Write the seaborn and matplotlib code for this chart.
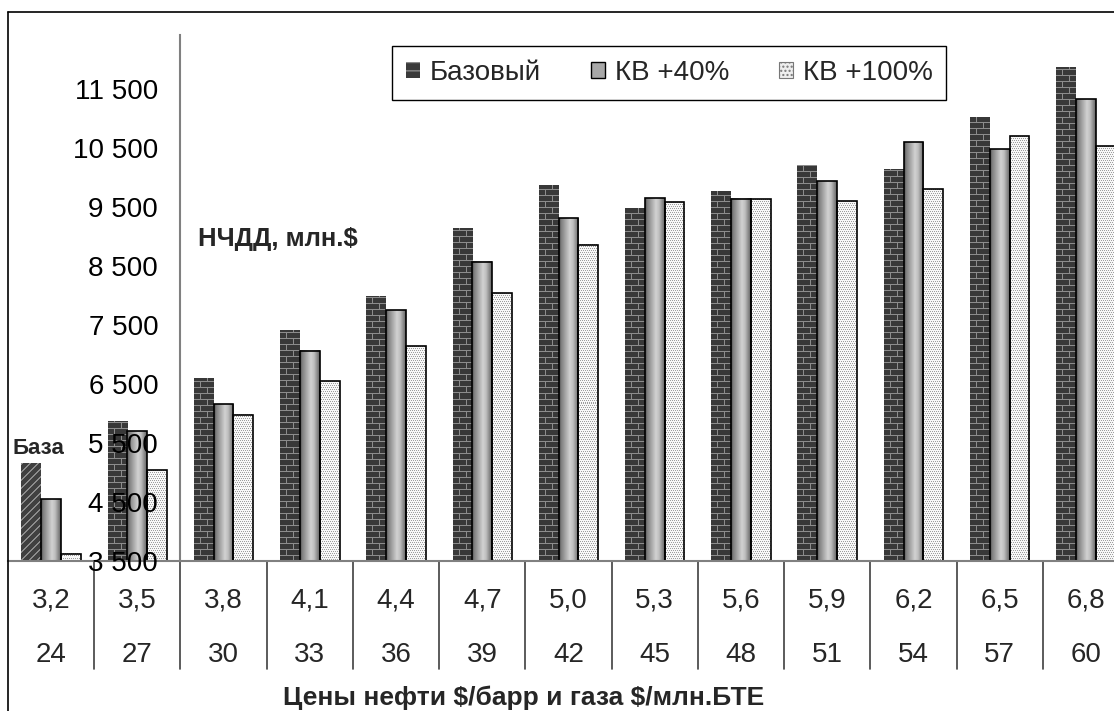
import numpy as np
import pandas as pd
import matplotlib
matplotlib.use("Agg")
import matplotlib.pyplot as plt
import matplotlib.transforms as mtransforms
from matplotlib.lines import Line2D
from matplotlib.patches import Patch
from matplotlib.ticker import FuncFormatter
import seaborn as sns

# price pairs under the bars
oil_prices = ["3,2", "3,5", "3,8", "4,1", "4,4", "4,7", "5,0", "5,3", "5,6", "5,9", "6,2", "6,5", "6,8"]
gas_prices = ["24", "27", "30", "33", "36", "39", "42", "45", "48", "51", "54", "57", "60"]

series_names = ["Базовый", "КВ +40%", "КВ +100%"]
base_vals = [5160, 5860, 6600, 7400, 7990, 9130, 9870, 9480, 9770, 10210, 10130, 11010, 11870]
kv40_vals = [4550, 5700, 6160, 7060, 7750, 8570, 9310, 9650, 9640, 9940, 10600, 10480, 11330]
kv100_vals = [3620, 5040, 5975, 6550, 7140, 8040, 8860, 9580, 9630, 9600, 9800, 10700, 10530]

y_ticks = [3500, 4500, 5500, 6500, 7500, 8500, 9500, 10500, 11500]

df = pd.DataFrame({
    "cat": oil_prices * 3,
    "value": base_vals + kv40_vals + kv100_vals,
    "series": [s for s in series_names for _ in oil_prices],
})

sns.set_style("white")
plt.rcParams["font.family"] = ["Liberation Sans", "DejaVu Sans"]
plt.rcParams["text.parse_math"] = False

W, H = 1114, 711
fig = plt.figure(figsize=(W / 100, H / 100), dpi=100)
ax = fig.add_axes([8 / W, 150 / H, 1121 / W, 526 / H])

sns.barplot(data=df, x="cat", y="value", hue="series", hue_order=series_names,
            order=oil_prices, width=0.69, gap=0, palette=["#3a3a3a", "#a8a8a8", "#e8e8e8"],
            legend=False, ax=ax)

ax.set_xlim(-0.5, len(oil_prices) - 0.5)
ax.set_ylim(3500, 12415)


def texture(kind, w, h):
    ii, jj = np.mgrid[0:h, 0:w]
    r = h - 1 - ii
    if kind == "brick":
        row = r // 6
        mortar = ((r % 6) == 5) | (((jj + (row % 2) * 7) % 14) == 13)
        return np.where(mortar, 0.55, 0.22)
    if kind == "hatch":
        return np.where(((jj + ii) % 8) < 2, 0.55, 0.25)
    if kind == "dots":
        dot = (ii % 2 == 0) & (((jj + ii // 2) % 2) == 0)
        return np.where(dot, 0.62, 0.97)
    # cylinder gradient
    t = (np.arange(w) + 0.5) / max(w, 1)
    prof = np.interp(t, [0, 0.12, 0.55, 0.7, 1.0], [0.3, 0.5, 0.82, 0.75, 0.38])
    return np.tile(prof, (h, 1))


kinds = ["brick", "cyl", "dots"]
for ci, cont in enumerate(ax.containers):
    for bi, bar in enumerate(cont):
        kind = kinds[ci]
        if ci == 0 and bi == 0:
            kind = "hatch"
        x0, x1 = bar.get_x(), bar.get_x() + bar.get_width()
        y0, y1 = 3500, bar.get_y() + bar.get_height()
        (px0, py0), (px1, py1) = ax.transData.transform([(x0, y0), (x1, y1)])
        w = max(int(round(px1 - px0)), 1)
        h = max(int(round(py1 - py0)), 1)
        ax.imshow(texture(kind, w, h), cmap="gray", vmin=0, vmax=1, extent=(x0, x1, y0, y1),
                  aspect="auto", interpolation="nearest", zorder=0.5)
        bar.set_facecolor("none")
        if ci == 0:
            bar.set_linewidth(0)
        else:
            bar.set_edgecolor("black")
            bar.set_linewidth(1.2)
        bar.set_zorder(1)

ax.set_xlim(-0.5, len(oil_prices) - 0.5)
ax.set_ylim(3500, 12415)
ax.set_axisbelow(False)

# axes styling
for side in ["top", "right"]:
    ax.spines[side].set_visible(False)
ax.spines["left"].set_position(("data", 1.5))
ax.spines["left"].set_color("#808080")
ax.spines["left"].set_linewidth(1.5)
ax.spines["bottom"].set_color("#808080")
ax.spines["bottom"].set_linewidth(1.5)
ax.set_xticks([])
ax.set_xlabel("")
ax.set_ylabel("")
ax.set_yticks(y_ticks)
ax.yaxis.set_major_formatter(FuncFormatter(lambda v, p: f"{int(v):,}".replace(",", " ")))
ax.tick_params(axis="y", direction="out", length=6, width=1.2, color="#808080",
               labelsize=20, pad=10, labelcolor="black")

# table under the axis
trans = mtransforms.blended_transform_factory(ax.transData, ax.transAxes)
for k in range(len(oil_prices) - 1):
    ax.plot([k + 0.5, k + 0.5], [0, -0.205], color="#404040", lw=1.2,
            transform=trans, clip_on=False)
for k, (o, g) in enumerate(zip(oil_prices, gas_prices)):
    ax.text(k, -0.075, o, transform=trans, ha="center", va="center", fontsize=20)
    ax.text(k, -0.178, g, transform=trans, ha="center", va="center", fontsize=20)

# chart frame (left and top)
fig.add_artist(Line2D([8 / W, 8 / W], [0, 1 - 12 / H], color="black", lw=1.2))
fig.add_artist(Line2D([8 / W, 1], [1 - 12 / H, 1 - 12 / H], color="black", lw=1.2))

# labels
fig.text(198 / W, 1 - 239 / H, "НЧДД, млн.$", fontsize=18.5, fontweight="bold",
         ha="left", va="center")
fig.text(12 / W, 1 - 448 / H, "База", fontsize=16, fontweight="bold",
         ha="left", va="center")
fig.text(524 / W, 1 - 698 / H, "Цены нефти $/барр и газа $/млн.БТЕ", fontsize=19,
         fontweight="bold", ha="center", va="center")

# legend
handles = [
    Patch(facecolor="#3a3a3a", edgecolor="#8a8a8a", hatch="--", linewidth=0),
    Patch(facecolor="#a8a8a8", edgecolor="black", linewidth=1),
    Patch(facecolor="#eeeeee", edgecolor="#777777", hatch="....", linewidth=0.8),
]
leg = ax.legend(handles, series_names, loc="center", bbox_to_anchor=(0.59, 0.928),
                ncol=3, fontsize=20, frameon=True, fancybox=False, framealpha=1,
                handlelength=0.5, handleheight=0.5, handletextpad=0.35,
                columnspacing=1.8, borderpad=0.5)
leg.get_frame().set_edgecolor("black")
leg.get_frame().set_linewidth(1.0)
leg.set_zorder(5)

fig.savefig("out.png", dpi=100)
